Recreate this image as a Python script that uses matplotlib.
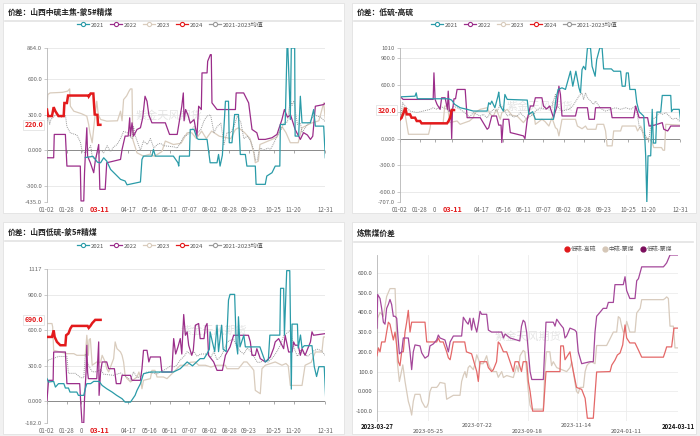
import matplotlib.pyplot as plt
from matplotlib.lines import Line2D
from matplotlib.patches import Rectangle

plt.rcParams['font.family'] = ['Noto Sans CJK SC', 'DejaVu Sans']

W, H = 700, 436

# ---- x axis of the seasonal panels (days after 01-02) ----
year_tick_days = [0, 26, 45, 68, 106, 134, 160, 186, 212, 238, 264, 296, 322, 363]
year_tick_labels = ["01-02", "01-28", "0", "03-11", "04-17", "05-16", "06-11",
                    "07-07", "08-02", "08-28", "09-23", "10-25", "11-20", "12-31"]
series_names = ["2021", "2022", "2023", "2024", "2021-2023均值"]

# ---- 价差：山西中硫主焦-蒙5#精煤 ----
tl_2021 = [(50, -60), (60, -50), (66, -100), (70, -104), (74, -62), (78, -90), (83, -160), (96, -244),
           (102, -258), (104.5, -290), (122, -266), (124, -76), (126, -48), (137, -48), (139, 8), (141.5, -48),
           (165, -48), (171, -104), (172, -132), (173, -48), (186, -48), (187, 177), (192, 177), (196, 100),
           (198, 93), (209, 93), (213, -104), (222, -104), (224, -34), (226, -132), (229, -40), (233, 415),
           (237, 415), (238, 65), (241.5, 65), (245, 303), (250, 303), (252.4, -34), (259, -34), (261, -132),
           (272, -132), (273, -286), (285, -286), (287, -216), (293.8, -188), (298, -132), (304, -132),
           (304.7, 219), (311, 219), (313.4, 864), (314.5, 864), (316, 600), (317.7, 261), (319, 864),
           (323.4, 864), (324, 121), (328.6, 121), (330.8, 457), (333, 233), (344, 233), (348.2, 345),
           (350.4, 205), (361.3, 205), (363.4, -62)]
tl_2022 = [(0, -62), (8.7, -62), (9.5, 135), (24, 135), (26, -132), (43.5, -132), (44.4, -426), (48, -426),
           (49, -188), (50, -48), (52, 191), (53, -48), (56.6, -104), (61, -188), (63, -90), (67.5, 50),
           (69, -328), (76, -328), (78, -104), (96, -76), (98, 8), (102, 121), (106, 121), (108, 275),
           (109, 121), (111, 233), (113, 121), (117.5, 177), (122, 191), (125, 275), (128, 457), (130.6, 415),
           (133, 300), (137, 233), (154.5, 233), (160, 135), (170, 135), (176, 373), (178, 485), (179, 250),
           (181, 345), (184, 300), (187, 230), (192, 260), (195.8, 121), (198, 373), (201.5, 345), (202.4, 654),
           (209, 654), (209.8, 752), (213.3, 808), (214.5, 808), (215.4, 401), (222, 345), (246, 345),
           (247, 485), (256.8, 485), (263.3, 401), (267.7, 177), (274, 149), (276.4, 93), (285, 93),
           (293.8, 107), (300.3, 135), (306.8, 261), (310, 345), (314, 280), (318, 300), (324, 177),
           (330.8, 93), (335, 150), (340, 130), (344, 93), (347, 120), (350.4, 373), (361.3, 387), (363.4, 401)]
tl_2023 = [(0, 350), (1, 471), (4, 485), (20, 490), (27, 500), (29.6, 519), (30.5, 373), (35, 331), (45, 310),
           (52, 289), (54.4, 219), (56, 150), (59, 65), (62, 250), (65, 415), (67, 300), (70, 261), (78, 247),
           (92, 250), (96, 331), (98, 250), (100, 429), (104, 460), (107, 499), (109, 519), (111, 519),
           (112, 93), (117.5, -20), (126, -48), (135, -30), (140, -50), (150, -10), (154.5, 79), (165, 50),
           (175, 60), (183, 149), (189, 149), (195, 100), (202, 163), (208, 100), (215, 163), (225, 120),
           (240, 100), (246, 177), (250, 191), (258, 150), (265, 100), (270, -20), (272, -104), (276, -90),
           (278, 50), (293.8, 93), (300, 110), (307, 200), (312, 150), (317.7, 65), (328, 65), (333, 191),
           (345, 230), (355, 250), (361.3, 401), (363.4, 261)]
tl_2024 = [(0, 345), (1.3, 290), (6.5, 290), (8.7, 365), (11, 330), (13, 310), (15, 290), (21.8, 290),
           (22.7, 400), (26, 400), (27.5, 463), (54, 463), (54.5, 455), (57, 480), (60.5, 480), (62.3, 303),
           (65.8, 300), (66.7, 216), (69.7, 216)]
tl_avg = [(0, 250), (1.3, 300), (3.5, 220), (5, 260), (11, 300), (15, 290), (19.6, 280), (24, 300), (26, 200),
          (30.5, 148), (39, 130), (43.6, 70), (46, -10), (50, -20), (53, 0), (57, 40), (59, -50), (63, -80),
          (65, -30), (70, 0), (74, -20), (78.5, 40), (83, -10), (87, 30), (91.5, 50), (96, 100), (100, 160),
          (104.6, 150), (111, 100), (113, 200), (115.5, 120), (122, 0), (126, 80), (131, 50), (135, 100),
          (139.5, 20), (144, 50), (148, 60), (152.6, 40), (165.6, 30), (170, 20), (174, 60), (178.7, 120),
          (183, 130), (187, 160), (192, 200), (196, 150), (200.5, 170), (205, 250), (209, 290), (213.6, 300),
          (218, 150), (222, 200), (227, 230), (231, 50), (235, 150), (240, 150), (244, 200), (248.5, 290),
          (253, 240), (257, 100), (261.5, 120), (266, 80), (270, 0), (272, -80), (274.6, -80), (277, 0),
          (279, 20), (283, 0), (288, 20), (292, 10), (296, 60), (301, 130), (305, 170), (309.5, 230),
          (314, 240), (316, 350), (318, 420), (320, 380), (322.6, 420), (325, 300), (327, 220), (331, 230),
          (333, 150), (338, 200), (344, 250), (349, 300), (353, 290), (357.5, 280), (362, 250), (364, 240)]

# ---- 价差：低硫-高硫 ----
tr_2021 = [(2, 466), (19.5, 473), (21, 510), (22.5, 444), (63, 444), (67, 429), (71, 381), (78, 344),
           (87, 326), (95, 307), (113, 307), (115, 400), (117, 381), (119, 418), (123, 344), (127, 474),
           (128, 518), (130, 363), (134, 307), (136, 492), (139, 437), (165, 429), (167, 270), (172, 300),
           (175.5, 215), (199, 215), (201.5, 400), (202.5, 455), (205, 548), (210, 566), (214.5, 548),
           (221, 751), (224, 584), (228, 751), (232, 566), (234, 510), (236, 769), (238, 806), (240.5, 769),
           (243, 1010), (247, 1010), (249, 806), (253, 695), (255, 880), (259, 1010), (262, 1010), (264, 777),
           (274, 777), (277, 751), (286, 751), (288, 584), (292, 584), (293.5, 732), (296, 732), (298, 548),
           (305, 548), (307, 400), (310, 300), (316, 250), (318.5, -192), (320, -707), (321.5, -192),
           (325, -192), (327, 326), (328.5, -50), (331.5, -50), (333, 296), (338, 296), (340, 481), (351, 481),
           (352, 300), (354, 326), (362, 326), (364, 180)]
tr_2022 = [(2, 455), (4, 437), (43, 437), (44, 733), (45.5, 437), (48, 381), (52, 326), (54, 455), (58.5, 455),
           (61.5, 326), (62.5, 529), (64, 307), (66, 307), (67, 0), (68, 307), (70, 444), (72, 444), (74, 548),
           (84.5, 548), (87, 233), (104, 233), (113, 104), (115, 120), (119, 252), (125, 252), (128, 150),
           (131, 150), (132, -44), (134, 215), (141, 215), (143, 67), (152, 48), (160, 30), (162, 0),
           (165, 215), (169, 363), (173, 363), (175.5, 455), (184, 455), (186, 363), (190, 330), (194, 363),
           (199, 233), (203.5, 363), (206, 584), (208, 492), (210, 252), (227.5, 252), (230, 344), (243, 344),
           (245, 215), (252, 215), (253.5, 344), (273, 344), (275, 233), (303, 233), (305.5, 363), (310, 233),
           (321, 233), (323, 140), (330, 150), (340, 178), (342, 104), (347, 85), (349, 111), (351, 140),
           (364, 140)]
tr_2023 = [(0, 190), (2, 270), (5, 350), (9, 150), (11, 48), (37, 48), (39, 120), (40, 178), (56, 178),
           (58, 363), (62, 363), (64, 178), (74, 196), (78, 159), (84, 178), (90, 196), (95, 233), (97, 289),
           (104, 326), (113, 344), (117, 270), (121, 250), (125, 326), (130, 215), (132, 289), (139, 326),
           (145, 260), (152, 250), (160, 178), (165, 233), (169, 289), (174, 250), (175.5, 159), (184, 215),
           (188, 190), (193, 140), (197, 233), (201.5, 122), (204, 104), (206, 30), (208, 120), (210, 215),
           (227.5, 215), (230, 140), (236, 110), (240.5, 140), (243, 104), (254, 104), (255.5, 159), (264, 159),
           (266.5, 85), (268.5, -81), (275, -81), (277, 85), (286, 85), (288, 140), (305.5, 140), (308, 85),
           (312, 140), (314, 104), (316, 11), (322, 0), (325, -20), (327, -44), (329, -100), (339, -100),
           (341, -130), (343, -130), (344.5, 159), (364, 150)]
tr_2024 = [(0, 215), (2, 230), (5, 296), (7, 344), (8.7, 270), (13, 270), (15, 233), (19.5, 233), (21.7, 196),
           (26, 196), (28, 170), (61, 170), (63, 196), (65, 233), (67, 318), (70, 318)]
tr_avg = [(0, 200), (3.5, 400), (6.5, 363), (13, 307), (22, 290), (30, 307), (39, 326), (43, 344), (48, 326),
          (52, 363), (56, 344), (61, 326), (65, 290), (69, 363), (74, 344), (78, 326), (84, 289), (90, 240),
          (95, 289), (104, 252), (108, 270), (113, 230), (117, 289), (121, 326), (126, 307), (130, 381),
          (134, 344), (139, 252), (143, 270), (147, 240), (152, 252), (156, 289), (160, 252), (165, 215),
          (169, 252), (174, 270), (175.5, 307), (182, 344), (188, 326), (197, 363), (201.5, 492), (203.5, 363),
          (206, 344), (210, 307), (219, 326), (224, 363), (232, 474), (236, 510), (238, 437), (240.5, 510),
          (243, 455), (245, 437), (249, 400), (251, 381), (253.5, 418), (258, 363), (262, 326), (266.5, 307),
          (273, 326), (279.5, 344), (286, 326), (292.5, 344), (299, 326), (305.5, 363), (308, 252), (310, 140),
          (314, 80), (318.5, 30), (321, -7), (323, 10), (325, 140), (327, 215), (331, 233), (336, 289),
          (340, 270), (344.5, 289), (349, 252), (353, 215), (358, 230), (362, 196), (364, 205)]

# ---- 价差：山西低硫-蒙5#精煤 ----
bl_2021 = [(0, 192), (2, 164), (8.7, 169), (11, 121), (15, 150), (22, 150), (24, 113), (28, 113), (30, 79),
           (39, 79), (41, 51), (48, 51), (50, 107), (52, 150), (57, 150), (61, 169), (68, 169), (72, 135),
           (78, 107), (85, 79), (91, 51), (98, 23), (102, -6), (109, -6), (115, 51), (117.5, 93), (122, 150),
           (124, 192), (126, 234), (135, 248), (165, 248), (174, 276), (183, 333), (190, 300), (200, 361),
           (205, 361), (209, 403), (212, 440), (213, 587), (216, 500), (219, 420), (222, 643), (224, 420),
           (228, 643), (230, 440), (234, 420), (237, 855), (239, 903), (245, 903), (247, 500), (249, 400),
           (250, 714), (252, 460), (257, 559), (259, 460), (278, 460), (285, 333), (289, 350), (291, 559),
           (304, 559), (305, 954), (309, 954), (310, 559), (313, 1103), (317, 1103), (319, 104), (320, 652),
           (327, 652), (328, 450), (331, 560), (333, 450), (336, 470), (346, 470), (349, 293), (352, 210),
           (355, 293), (362, 293), (364, 10)]
bl_2022 = [(0, 8), (2, 178), (8, 178), (8.7, 417), (24, 417), (26, 150), (42.7, 150), (44, -6), (45.7, -182),
           (48, -182), (49, 23), (51, 248), (52, 474), (53, 248), (54, 192), (65, 192), (67.5, 502), (68, 51),
           (70, 250), (72, 333), (78, 333), (80.5, 276), (88, 276), (90.5, 150), (96, 150), (98, 220), (109, 220),
           (111, 178), (122, 178), (124, 276), (126, 431), (130.6, 431), (133, 333), (135, 375), (148, 375),
           (150, 248), (163, 248), (165.4, 530), (168, 400), (171, 460), (174, 530), (176, 400), (178.5, 733),
           (180.7, 558), (183, 587), (185, 474), (189, 389), (191, 430), (193.7, 643), (198, 657), (200, 530),
           (205, 530), (206.7, 629), (209, 657), (211, 389), (217.6, 333), (222, 262), (229, 262), (233, 389),
           (239, 460), (243.7, 558), (263, 558), (265.5, 502), (267.7, 389), (272, 389), (274, 445),
           (278.5, 361), (285, 333), (291.6, 375), (296, 450), (298, 502), (302.5, 530), (306.8, 474),
           (309, 445), (311, 558), (315.5, 417), (320, 417), (322, 502), (324, 474), (328, 474), (330.8, 389),
           (333, 445), (337, 389), (344, 502), (346, 587), (348, 558), (363.4, 572)]
bl_2023 = [(0, 657), (6.5, 657), (7.4, 629), (8.7, 431), (17.4, 417), (26, 403), (35, 403), (39, 389), (50, 389),
           (52, 558), (54, 389), (55, 520), (56.6, 530), (59, 305), (65, 333), (70, 330), (72, 389), (76, 333),
           (78, 276), (80.5, 248), (87, 361), (89, 502), (91.4, 445), (96, 417), (98, 389), (100, 333),
           (102, 220), (104.5, 192), (107, 178), (109, 164), (117.5, 206), (120, 248), (122, 200), (124, 107),
           (126, 178), (135, 192), (137, 262), (141, 262), (143.7, 206), (152, 206), (156.7, 192), (165.4, 248),
           (174, 305), (183, 305), (187, 330), (193.7, 333), (198, 305), (206.7, 305), (214, 290), (222, 305),
           (233, 305), (235, 276), (250, 276), (257, 333), (261, 333), (268, 280), (270, 262), (272, 93),
           (278.5, 65), (280.7, 276), (285, 305), (298, 333), (306.8, 305), (312, 320), (315, 300), (317.7, 135),
           (333, 135), (337, 305), (345, 330), (350.4, 417), (359, 417), (361, 544), (363.4, 544)]
bl_2024 = [(0, 544), (6.5, 544), (8.7, 600), (10, 544), (13, 502), (17.4, 474), (24, 474), (25, 558), (28, 573),
           (30.5, 615), (32.7, 637), (53, 637), (54.5, 620), (57, 640), (59, 660), (63, 688), (70, 688)]
bl_avg = [(0, 330), (2, 350), (9, 364), (15, 380), (26, 378), (28, 237), (37, 237), (44, 200), (48, 200),
          (50, 400), (52, 350), (54.5, 300), (59, 250), (65, 250), (70, 270), (74, 230), (83, 223), (87, 220),
          (96, 240), (105, 200), (109, 180), (113, 250), (118, 200), (122, 210), (131, 250), (144, 230),
          (148, 250), (157, 279), (161, 300), (166, 290), (170, 310), (174, 350), (179, 380), (183, 420),
          (187, 400), (192, 420), (196, 380), (200.5, 400), (209, 400), (213.6, 370), (218, 420), (222, 350),
          (227, 380), (231, 430), (235, 500), (240, 519), (244, 520), (248.5, 450), (253, 420), (257, 400),
          (261.5, 450), (266, 420), (270, 380), (274.6, 330), (279, 330), (283, 350), (288, 330), (292, 350),
          (296, 380), (301, 430), (305, 480), (309.5, 561), (314, 580), (318, 600), (322.6, 450), (327, 380),
          (331, 430), (335.7, 400), (340, 380), (344, 400), (349, 430), (353, 440), (357.5, 430), (362, 400),
          (364, 380)]

# ---- 炼焦煤价差 (days after 2023-03-27) ----
br_tick_days = [0, 59, 117, 175, 232, 290, 350]
br_tick_labels = ["2023-03-27", "2023-05-25", "2023-07-22", "2023-09-18", "2023-11-14", "2024-01-11", "2024-03-11"]
br_names = ["低硫-高硫", "中硫-蒙煤", "低硫-蒙煤"]
br_low_high = [(0, 180), (1.6, 220), (3.5, 200), (5.4, 250), (9.3, 250), (11.2, 300), (13.2, 350), (15.1, 340),
               (17, 300), (19, 260), (21, 300), (22.9, 230), (24.8, 150), (26.7, 130), (28.7, 200), (30.6, 200),
               (32.6, 300), (34.5, 350), (36.4, 410), (38.4, 300), (40.3, 350), (55.8, 350), (57.8, 250),
               (69.4, 250), (71.3, 270), (73.3, 250), (77, 250), (81, 200), (83, 170), (85, 160), (86.8, 200),
               (88.8, 250), (102, 250), (104, 200), (110, 190), (114, 130), (116, 100), (117.8, 50), (119.8, 150),
               (127.5, 150), (129.5, 120), (133.3, 100), (135.3, 110), (139, 150), (141, 250), (143, 240),
               (147, 200), (150.8, 200), (154.7, 150), (158.5, 100), (160.5, 150), (164.3, 150), (168, 100),
               (170, 150), (174, 150), (176, 50), (178, 0), (181, -100), (193.4, -100), (196.5, 100), (212.8, 100),
               (213.6, 230), (216.7, 230), (218.6, 160), (224.4, 200), (226.4, 143), (228.3, 100), (232, 20),
               (238, 10), (242, -35), (244.6, -136), (251.5, -136), (255.4, 98), (271, 100), (273, 133),
               (276.7, 158), (279.5, 184), (282.6, 194), (285.7, 235), (288.4, 336), (290.3, 270), (294, 245),
               (300, 245), (304, 209), (307.8, 173), (333, 173), (335, 199), (336.8, 225), (342.6, 225),
               (345.3, 320), (350.4, 320)]
br_mid_meng = [(0, 240), (0.8, 370), (3.5, 400), (7.4, 380), (9.3, 430), (11.2, 480), (15.1, 520), (21, 520),
               (22, 400), (23.6, 150), (26, 50), (27.5, 80), (30, 134), (32.6, 50), (34.5, 0), (36.4, -50),
               (38.4, -80), (40.3, -120), (42.2, -50), (44.2, -15), (50, -15), (52, -50), (55.8, -80), (57.8, -80),
               (59.7, -60), (61.6, 0), (63.6, 20), (69.4, 20), (71.3, 30), (73.3, 45), (79, 40), (81, -40),
               (88.8, -20), (96.5, -20), (98.4, 50), (100.4, 80), (102.3, 100), (104, 70), (106, 120), (108, 130),
               (112, 110), (114, 140), (116, 185), (119.8, 140), (123.6, 140), (127.5, 180), (129.5, 140),
               (131.4, 120), (135.3, 100), (139, 100), (141, 71), (145, 100), (147, 70), (150.8, 80), (158.5, 70),
               (162.4, 130), (164.3, 100), (166.3, 180), (170, 207), (172, 200), (174, 100), (176, 0), (178, -70),
               (180, -90), (193.4, -90), (195, 100), (197, 200), (201, 200), (203, 130), (205, 150), (209, 120),
               (220.5, 100), (224.4, 120), (226.4, 150), (228.3, 100), (230, 50), (232, 0), (234, -10), (236, 20),
               (240, 20), (242, 100), (244, 130), (245.7, 140), (249.6, 150), (253.5, 140), (255.4, 232),
               (267, 232), (271, 266), (274.8, 300), (278.7, 300), (280.6, 378), (282.6, 370), (284.5, 330),
               (286.4, 300), (288.4, 300), (290.3, 354), (292, 330), (294, 300), (300, 300), (302, 397), (306, 420),
               (307.8, 464), (333, 464), (335, 470), (336.8, 478), (338.8, 470), (340.7, 330), (344.6, 330),
               (346.5, 220), (350.4, 220)]
br_low_meng = [(0, 320), (0.8, 490), (3.5, 470), (5.4, 420), (7.4, 350), (9.3, 340), (11.2, 420), (13.2, 440),
               (15.1, 465), (17, 440), (19, 380), (21, 380), (22.9, 370), (24, 300), (26, 190), (28.7, 200),
               (30.6, 270), (36.4, 270), (38.4, 200), (40.3, 110), (42.2, 200), (44.2, 235), (50, 230), (52, 195),
               (55.8, 168), (59.7, 180), (61.6, 230), (65.5, 240), (69.4, 260), (71.3, 285), (73.3, 270), (79, 260),
               (81, 230), (83, 200), (85, 250), (88.8, 280), (98.4, 280), (100.4, 375), (104, 350), (106, 340),
               (108, 370), (110, 310), (112, 370), (114, 330), (116, 300), (118, 350), (119.8, 405), (121.7, 390),
               (127.5, 390), (129.5, 310), (133.3, 300), (145, 300), (147, 270), (149, 290), (154.7, 270),
               (162.4, 260), (166, 255), (168, 330), (170, 360), (172, 350), (174, 300), (176, 200), (178, 100),
               (180, 60), (193.4, 60), (196.5, 350), (205, 350), (207, 330), (209, 365), (213, 340), (216.7, 320),
               (218.6, 270), (220.5, 280), (224.4, 320), (230, 310), (232, 300), (234, 200), (238, 140),
               (247.7, 150), (251.5, 150), (253.5, 300), (255.4, 380), (259.3, 400), (263, 420), (267, 420),
               (269, 450), (274.8, 450), (276.7, 540), (286.4, 540), (288.4, 580), (290.3, 510), (294, 470),
               (300, 470), (302, 560), (304, 570), (307.8, 630), (333, 630), (335, 640), (336.8, 650), (340.7, 690),
               (350.4, 690)]

C21, C22, C23, C24, CAVG = "#2a9ba8", "#9b2d8a", "#d9ccbd", "#e31a1c", "#9a9a9a"

fig = plt.figure(figsize=(7, 4.36), dpi=100)
fig.patch.set_facecolor("#f1f1f1")


def fx(x):
    return x / W


def fy(y):
    return 1 - y / H


def card(x0, y0, x1, y1, title, line_y):
    fig.add_artist(Rectangle((fx(x0), fy(y1)), (x1 - x0) / W, (y1 - y0) / H, transform=fig.transFigure,
                             facecolor="white", edgecolor="#e2e2e2", lw=0.6, zorder=-5))
    fig.add_artist(Line2D([fx(x0 + 2), fx(x1 - 3)], [fy(line_y), fy(line_y)], transform=fig.transFigure,
                          color="#e3e3e3", lw=1.2, zorder=-4))
    fig.text(fx(x0 + 5), fy(line_y - 8.5), title, fontsize=5.6, fontweight="bold", color="#222",
             va="center", ha="left")


def add_axes(x0, y0, x1, y1):
    ax = fig.add_axes([fx(x0), fy(y1), (x1 - x0) / W, (y1 - y0) / H])
    ax.set_facecolor("none")
    for s in ["top", "right", "bottom"]:
        ax.spines[s].set_visible(False)
    ax.spines["left"].set_color("#b5b5b5")
    ax.spines["left"].set_linewidth(0.6)
    return ax


def year_panel(ax, series, yticks, ylabels, last_label, legend_xy, wm_xy):
    s21, s22, s23, s24, savg = series
    ax.set_xlim(0, 363)
    ax.set_ylim(yticks[0], yticks[-1])
    for y in yticks[1:]:
        if y != 0:
            ax.axhline(y, color="#e6e6e6", lw=0.6, zorder=0)
    ax.axhline(0, color="#8a8a8a", lw=0.7, zorder=1)
    ax.plot(year_tick_days, [0] * len(year_tick_days), ls="none", marker=3, ms=2, mew=0.5,
            color="#8a8a8a", zorder=1, clip_on=False)
    ax.text(wm_xy[0], wm_xy[1], "紫金天风期货", transform=ax.transAxes, fontsize=8, color="#e4e4e4",
            ha="center", va="center", zorder=0)

    x, y = zip(*s23)
    ax.plot(x, y, color=C23, lw=0.9, zorder=2)
    x, y = zip(*savg)
    ax.plot(x, y, color=CAVG, lw=0.7, ls=(0, (1, 1)), zorder=3)
    x, y = zip(*s22)
    ax.plot(x, y, color=C22, lw=0.9, zorder=4)
    x, y = zip(*s21)
    ax.plot(x, y, color=C21, lw=0.9, zorder=5)
    x, y = zip(*s24)
    ax.plot(x, y, color=C24, lw=1.8, zorder=6, solid_joinstyle="miter")

    ax.set_yticks(yticks)
    ax.set_yticklabels(ylabels)
    ax.tick_params(axis="y", labelsize=4.3, labelcolor="#666", length=2, width=0.5, color="#b5b5b5", pad=1.5)
    ax.set_xticks(year_tick_days)
    ax.set_xticklabels(year_tick_labels)
    ax.tick_params(axis="x", labelsize=4.4, labelcolor="#666", length=0, pad=3)
    lab = ax.get_xticklabels()[3]
    lab.set_color("#e31a1c")
    lab.set_fontweight("bold")
    lab.set_fontsize(5.2)

    ax.text(-0.014, s24[-1][1], last_label, transform=ax.get_yaxis_transform(), ha="right", va="center",
            fontsize=5, color="#e31a1c", fontweight="bold", zorder=10, clip_on=False,
            bbox=dict(boxstyle="square,pad=0.2", fc="white", ec="#dddddd", lw=0.5))

    handles = [Line2D([], [], color=c, lw=0.9, marker="o", ms=3, mfc="white", mew=0.8)
               for c in [C21, C22, C23, C24, CAVG]]
    leg = ax.legend(handles, series_names, loc="center", bbox_to_anchor=(fx(legend_xy[0]), fy(legend_xy[1])),
                    bbox_transform=fig.transFigure, ncol=5, frameon=False, fontsize=4.3, handlelength=2.0,
                    handletextpad=0.3, columnspacing=1.0)
    for t in leg.get_texts():
        t.set_color("#555")


# cards
card(3, 3, 344, 213, "价差：山西中硫主焦-蒙5#精煤", 21)
card(352, 3, 696, 213, "价差：低硫-高硫", 21)
card(3, 222, 344, 434, "价差：山西低硫-蒙5#精煤", 241)
card(352, 222, 696, 434, "炼焦煤价差", 242)

ax1 = add_axes(47, 48, 325, 202)
year_panel(ax1, [tl_2021, tl_2022, tl_2023, tl_2024, tl_avg],
           [-435, -300, 0, 300, 600, 864], ["-435.0", "-300.0", "0.000", "300.0", "600.0", "864.0"],
           "220.0", (170, 25), (0.44, 0.56))

# the 300.0 label sits under the 320.0 value box in this panel
ax2 = add_axes(400, 48, 680, 202)
year_panel(ax2, [tr_2021, tr_2022, tr_2023, tr_2024, tr_avg],
           [-707, -600, -300, 0, 300, 600, 900, 1010],
           ["-707.0", "-600.0", "-300.0", "0.000", "", "600.0", "900.0", "1010"],
           "320.0", (524, 25), (0.5, 0.62))

ax3 = add_axes(47, 269, 325, 423)
year_panel(ax3, [bl_2021, bl_2022, bl_2023, bl_2024, bl_avg],
           [-182, 0, 300, 600, 900, 1117], ["-182.0", "0.000", "300.0", "600.0", "900.0", "1117"],
           "690.0", (170, 246), (0.6, 0.6))

# ---- bottom right panel ----
ax4 = add_axes(377, 255, 678, 421)
ax4.set_xlim(0, 350)
ax4.set_ylim(-150, 690)
br_yticks = [-100, 0, 100, 200, 300, 400, 500, 600]
for y in br_yticks:
    ax4.axhline(y, color="#ececec", lw=0.6, zorder=0)
for d in br_tick_days[1:-1]:
    ax4.axvline(d, color="#ececec", lw=0.6, zorder=0)
ax4.text(0.5, 0.51, "紫金天风期货", transform=ax4.transAxes, fontsize=8, color="#e4e4e4",
         ha="center", va="center", zorder=0)

x, y = zip(*br_mid_meng)
ax4.plot(x, y, color="#d8cbbd", lw=0.9, zorder=2)
x, y = zip(*br_low_high)
ax4.plot(x, y, color="#e46868", lw=0.9, zorder=3)
x, y = zip(*br_low_meng)
ax4.plot(x, y, color="#a4479a", lw=0.9, zorder=4)

ax4.set_yticks(br_yticks)
ax4.set_yticklabels(["-100.0", "0.000", "100.0", "200.0", "300.0", "400.0", "500.0", "600.0"])
ax4.tick_params(axis="y", labelsize=4.3, labelcolor="#555", length=0, pad=3)
ax4.set_xticks([])
for i, (d, lab) in enumerate(zip(br_tick_days, br_tick_labels)):
    end = i in (0, len(br_tick_days) - 1)
    ax4.text(d, -0.015 if i % 2 == 0 else -0.05, lab, transform=ax4.get_xaxis_transform(), ha="center",
             va="top", fontsize=4.3, color="#111" if end else "#555", fontweight="bold" if end else "normal")

br_handles = [Line2D([], [], ls="none", marker="o", ms=3.5, color=c) for c in ["#e0191b", "#d5c7b7", "#7b0e5c"]]
leg = ax4.legend(br_handles, br_names, loc="center right", bbox_to_anchor=(fx(678), fy(249)),
                 bbox_transform=fig.transFigure, ncol=3, frameon=False, fontsize=4.2, handlelength=1.0,
                 handletextpad=0.2, columnspacing=1.0)
for t in leg.get_texts():
    t.set_color("#555")

fig.savefig("out.png", dpi=100, facecolor=fig.get_facecolor())
